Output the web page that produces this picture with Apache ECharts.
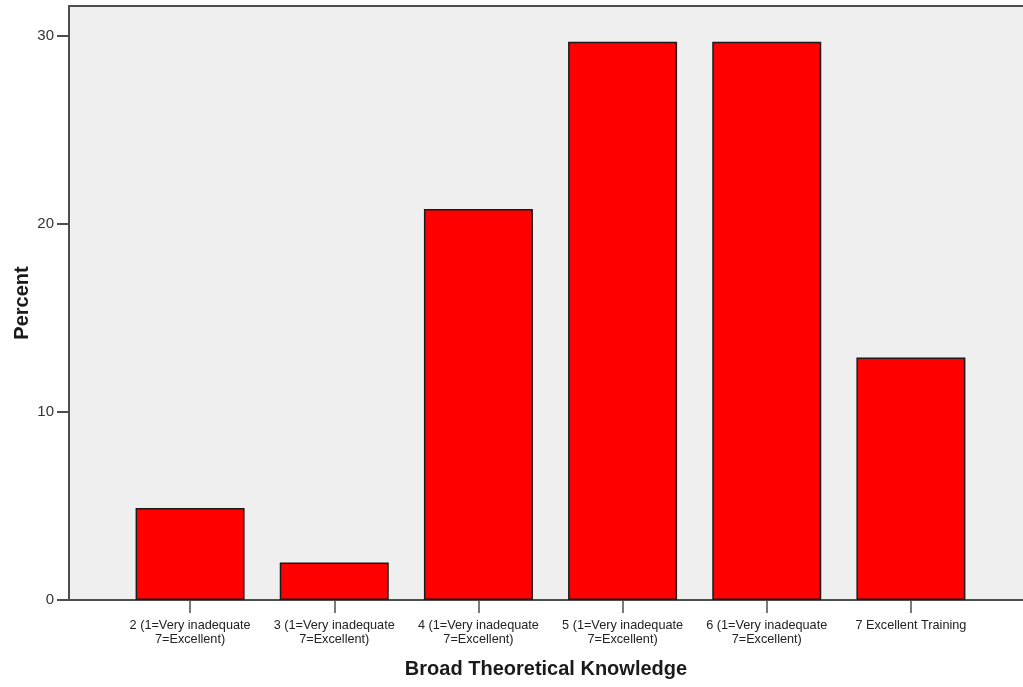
<!DOCTYPE html>
<html>
<head>
<meta charset="utf-8">
<script src="https://cdn.jsdelivr.net/npm/echarts@6/dist/echarts.min.js"></script>
<style>
html,body{margin:0;padding:0;background:#fff;}
#chart{width:1023px;height:687px;}
</style>
</head>
<body>
<div id="chart"></div>
<script>
const categories = [
  "2 (1=Very inadequate\n7=Excellent)",
  "3 (1=Very inadequate\n7=Excellent)",
  "4 (1=Very inadequate\n7=Excellent)",
  "5 (1=Very inadequate\n7=Excellent)",
  "6 (1=Very inadequate\n7=Excellent)",
  "7 Excellent Training"
];
const percentValues = [4.9, 2.0, 20.8, 29.7, 29.7, 12.9];
const yTickValues = [0, 10, 20, 30];
const xTitle = "Broad Theoretical Knowledge";
const yTitle = "Percent";

const axisColor = '#4d4d4d';
const font = '"Liberation Sans", Arial, sans-serif';
const yMax = 31.6;

const chart = echarts.init(document.getElementById('chart'), null, {renderer: 'canvas'});
chart.setOption({
  animation: false,
  backgroundColor: '#ffffff',
  grid: [
    {left: 69, right: 0, top: 6, bottom: 87, show: true, backgroundColor: '#efefef', borderWidth: 0, containLabel: false, outerBoundsMode: 'none'},
    {left: 118, right: 40, top: 6, bottom: 87, containLabel: false, outerBoundsMode: 'none'}
  ],
  xAxis: [
    {
      gridIndex: 0, type: 'value', min: 0, max: 1, position: 'bottom',
      axisLine: {show: true, onZero: false, lineStyle: {color: axisColor, width: 2}},
      axisTick: {show: false}, axisLabel: {show: false}, splitLine: {show: false},
      name: xTitle, nameLocation: 'middle', nameGap: 59, nameMoveOverlap: false,
      nameTextStyle: {fontFamily: font, fontSize: 20, fontWeight: 'bold', color: '#1a1a1a'}
    },
    {
      gridIndex: 0, type: 'value', min: 0, max: 1, position: 'top',
      axisLine: {show: true, onZero: false, lineStyle: {color: axisColor, width: 2}},
      axisTick: {show: false}, axisLabel: {show: false}, splitLine: {show: false}
    },
    {
      gridIndex: 1, type: 'category', data: categories, position: 'bottom',
      axisLine: {show: false, onZero: false},
      axisTick: {show: true, alignWithLabel: true, length: 13, lineStyle: {color: axisColor, width: 1.5}},
      axisLabel: {fontFamily: font, fontSize: 12.7, lineHeight: 14, color: '#222', margin: 18, interval: 0}
    }
  ],
  yAxis: [
    {
      gridIndex: 0, type: 'value', min: 0, max: yMax, interval: 10,
      axisLine: {show: true, lineStyle: {color: axisColor, width: 2}},
      axisTick: {show: true, length: 12, customValues: yTickValues, lineStyle: {color: axisColor, width: 2}},
      axisLabel: {fontFamily: font, fontSize: 15, color: '#333', margin: 15, customValues: yTickValues},
      splitLine: {show: false},
      name: yTitle, nameLocation: 'middle', nameGap: 37, nameRotate: 90, nameMoveOverlap: false,
      nameTextStyle: {fontFamily: font, fontSize: 20, fontWeight: 'bold', color: '#1a1a1a'}
    },
    {
      gridIndex: 1, type: 'value', min: 0, max: yMax, interval: 10,
      show: false
    }
  ],
  series: [{
    type: 'bar',
    xAxisIndex: 2, yAxisIndex: 1,
    data: percentValues,
    barWidth: 109,
    itemStyle: {color: '#ff0000', borderColor: '#1a1a1a', borderWidth: 1.5}
  }]
});
</script>
</body>
</html>
